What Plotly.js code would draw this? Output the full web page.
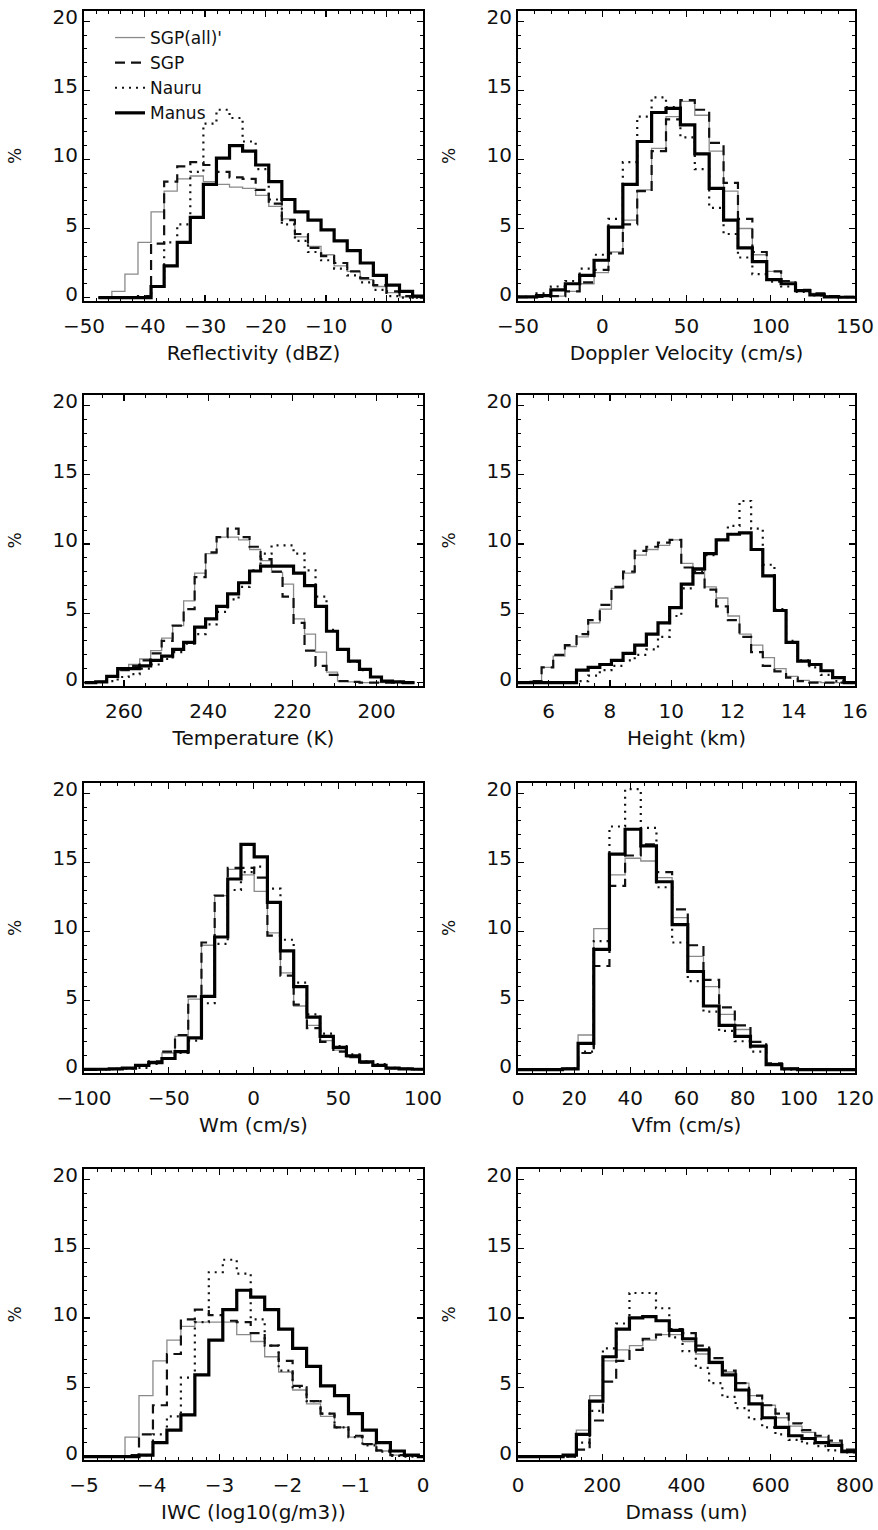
<!DOCTYPE html>
<html><head><meta charset="utf-8">
<script src="https://cdn.plot.ly/plotly-3.0.1.min.js"></script>
<style>html,body{margin:0;padding:0;background:#fff}#chart{width:878px;height:1530px}</style>
</head><body><div id="chart"></div>
<script>
const seriesNames = ["SGP(all)'", "SGP", "Nauru", "Manus"];

// Reflectivity (dBZ)
const reflEdges = [-47.6,-45.4,-43.24,-41.08,-38.92,-36.76,-34.6,-32.44,-30.28,-28.12,-25.96,-23.8,-21.64,-19.48,-17.32,-15.16,-13.0,-10.84,-8.68,-6.52,-4.36,-2.2,-0.04,2.12,4.28,6.44];
const reflSGPall = [0,0.45,1.7,4.0,6.2,7.7,8.6,8.8,8.4,8.2,8.0,7.9,7.4,6.6,5.7,4.4,3.7,3.1,2.3,1.9,1.3,0.8,0.35,0.05,0];
const reflSGP    = [0,0,0,0.1,3.9,8.4,9.5,9.8,9.6,9.1,8.7,8.6,7.8,6.8,5.6,4.6,3.6,3.0,2.5,1.9,1.4,0.9,0.45,0.1,0];
const reflNauru  = [0,0,0,0,0.8,4.0,5.3,9.1,12.6,13.6,13.0,11.3,9.3,7.1,5.3,4.1,3.3,2.7,2.1,1.6,1.1,0.55,0.1,0,0];
const reflManus  = [0,0,0,0,0.8,2.3,4.0,5.8,8.2,10.1,11.0,10.6,9.6,8.4,7.1,6.2,5.6,4.9,4.1,3.4,2.5,1.6,0.9,0.45,0.1];

// Doppler Velocity (cm/s)
const dopEdges = [-50,-39.0,-30.5,-21.9,-13.4,-4.86,3.68,12.22,20.76,29.3,37.84,46.38,54.92,63.46,72.0,80.54,89.08,97.62,106.16,114.7,123.24,131.78,140.32,150];
const dopSGPall = [0.02,0.05,0.1,0.45,1.0,1.8,3.3,5.6,7.8,10.8,13.1,14.2,13.2,10.6,7.7,5.0,3.1,1.9,1.15,0.55,0.3,0.1,0.05];
const dopSGP    = [0.02,0.05,0.1,0.45,1.1,2.0,3.2,5.3,7.7,10.6,12.9,14.3,13.6,11.2,8.3,5.7,3.3,1.9,1.2,0.55,0.3,0.1,0.05];
const dopNauru  = [0.05,0.3,0.8,1.2,2.1,3.1,5.7,9.8,13.1,14.5,13.8,11.6,9.3,6.5,4.6,2.9,1.7,1.15,0.8,0.4,0.15,0.05,0.02];
const dopManus  = [0.05,0.15,0.55,1.0,1.6,2.7,5.1,8.2,11.3,13.4,13.7,12.5,10.4,7.9,5.6,3.6,2.6,1.3,1.0,0.5,0.2,0.05,0.02];

// Temperature (K)
const tempEdges = [269.33,266.72,264.11,261.5,258.89,256.28,253.67,251.06,248.45,245.84,243.23,240.62,238.01,235.4,232.79,230.18,227.57,224.96,222.35,219.74,217.13,214.52,211.91,209.3,206.69,204.08,201.47,198.86,196.25,193.64,191.03];
const tempSGPall = [0,0.05,0.45,0.9,1.3,1.7,2.3,3.2,4.1,5.9,7.9,9.3,10.5,10.5,10.3,9.6,8.8,7.95,7.1,4.6,3.5,2.2,0.75,0.1,0.05,0,0,0,0,0];
const tempSGP    = [0,0.05,0.45,0.9,1.2,1.6,2.1,3.0,4.1,5.3,7.6,9.4,10.5,11.1,10.5,9.8,8.9,8.0,6.2,4.3,2.3,1.2,0.55,0.1,0.05,0,0,0,0,0];
const tempNauru  = [0,0.05,0.1,0.4,0.6,1.0,1.3,1.7,2.2,2.8,3.5,4.2,5.1,6.0,6.9,8.1,9.3,9.9,9.9,9.3,8.1,6.2,3.8,2.4,1.5,0.9,0.4,0.1,0.05,0];
const tempManus  = [0,0.05,0.45,1.0,1.0,1.2,1.6,1.9,2.4,2.9,4.0,4.6,5.5,6.4,7.2,8.05,8.4,8.4,8.4,7.9,7.0,5.5,3.7,2.4,1.55,0.95,0.4,0.1,0.05,0];

// Height (km)
const hgtEdges = [5.0,5.39,5.77,6.15,6.53,6.91,7.29,7.67,8.05,8.43,8.81,9.19,9.57,9.95,10.33,10.71,11.09,11.47,11.85,12.23,12.61,12.99,13.37,13.75,14.13,14.51,14.89,15.27,15.65,16.03];
const hgtSGPall = [0,0.1,1.1,1.9,2.6,3.3,4.3,5.3,6.8,7.9,9.2,9.6,9.9,10.3,8.6,8.1,6.9,6.1,4.8,3.5,2.7,1.8,1.0,0.45,0.15,0.05,0,0,0];
const hgtSGP    = [0,0.1,1.1,2.0,2.7,3.5,4.5,5.6,6.9,8.0,9.5,9.8,10.1,10.3,8.3,7.9,6.7,5.5,4.5,3.3,2.2,1.2,0.8,0.35,0.1,0,0,0,0];
const hgtNauru  = [0,0,0,0,0,0.1,0.5,0.9,1.2,1.6,2.0,2.4,3.3,4.8,6.8,8.0,9.2,10.3,11.3,13.1,11.1,8.5,5.3,3.0,1.6,1.1,0.55,0.1,0];
const hgtManus  = [0,0,0,0,0,0.9,1.1,1.3,1.6,2.1,2.7,3.5,4.3,5.4,7.1,8.2,9.3,10.3,10.7,10.8,9.6,7.7,5.2,2.9,1.55,1.3,0.85,0.35,0];

// Wm (cm/s)
const wmEdges = [-100,-92.9,-85.1,-77.4,-69.6,-61.8,-54.0,-46.3,-38.5,-30.7,-22.9,-15.2,-7.4,0.4,8.2,15.9,23.7,31.5,39.3,47.1,54.8,62.6,70.4,78.2,85.9,93.7,100];
const wmSGPall = [0.01,0.02,0.05,0.1,0.3,0.6,1.2,2.4,5.1,9.0,12.6,14.5,14.1,12.9,9.9,7.0,4.6,3.2,2.1,1.4,0.9,0.5,0.3,0.1,0.05,0.02];
const wmSGP    = [0.01,0.02,0.05,0.1,0.3,0.6,1.3,2.5,5.3,9.2,12.6,14.6,14.6,13.9,9.7,6.8,4.7,3.0,2.0,1.3,0.9,0.5,0.3,0.1,0.05,0.02];
const wmNauru  = [0.01,0.01,0.03,0.06,0.12,0.4,0.8,1.2,2.1,4.8,9.1,13.0,14.3,14.7,13.1,9.4,6.3,4.0,2.6,1.7,1.1,0.6,0.4,0.12,0.05,0.02];
const wmManus  = [0.01,0.02,0.05,0.1,0.3,0.5,0.8,1.3,2.3,5.3,9.6,13.8,16.3,15.4,12.1,8.6,6.0,3.8,2.4,1.6,1.0,0.55,0.3,0.1,0.05,0.02];

// Vfm (cm/s)
const vfmEdges = [0,15.82,21.4,26.98,32.56,38.14,43.72,49.3,54.88,60.46,66.04,71.62,77.2,82.78,88.36,93.94,99.52,105.1,120];
const vfmSGPall = [0,0.1,2.5,10.2,14.1,15.3,15.1,13.9,11.0,8.2,6.0,4.0,2.9,1.7,0.45,0.1,0,0];
const vfmSGP    = [0,0.05,1.2,7.5,13.3,15.5,16.3,14.3,11.6,9.0,6.5,4.5,3.2,2.0,0.45,0.05,0,0];
const vfmNauru  = [0,0.05,1.3,9.3,17.6,20.3,17.5,13.2,9.2,6.4,4.2,2.8,2.05,1.3,0.35,0,0,0];
const vfmManus  = [0,0.05,1.9,8.7,15.6,17.4,16.2,13.6,10.5,7.1,4.6,3.2,2.4,1.7,0.35,0.05,0,0];

// IWC (log10(g/m3))
const iwcEdges = [-5,-4.395,-4.189,-3.983,-3.777,-3.571,-3.365,-3.159,-2.953,-2.747,-2.541,-2.335,-2.129,-1.923,-1.717,-1.511,-1.305,-1.099,-0.893,-0.687,-0.481,-0.275,-0.069,0];
const iwcSGPall = [0,1.4,4.4,6.9,8.4,9.4,9.7,9.7,9.7,8.8,8.3,7.2,6.1,4.8,3.8,2.9,2.1,1.4,0.9,0.4,0.1,0.05,0];
const iwcSGP    = [0,0.1,1.6,3.7,7.4,9.9,10.6,10.2,9.8,9.7,8.9,8.0,6.9,5.1,4.0,3.1,2.1,1.5,0.9,0.45,0.1,0.05,0];
const iwcNauru  = [0,0,0.1,1.6,2.9,5.7,9.7,13.3,14.2,13.2,9.9,8.0,6.2,5.0,4.0,3.1,2.1,1.4,0.8,0.35,0.05,0,0];
const iwcManus  = [0,0,0.1,1.0,1.9,3.0,5.9,8.4,10.6,12.0,11.5,10.6,9.2,7.8,6.5,5.1,4.4,3.1,1.9,1.0,0.4,0.1,0];

// Dmass (um)
const dmEdges = [0,107.1,138.6,170.1,201.6,233.1,264.6,296.1,327.6,359.1,390.6,422.1,453.6,485.1,516.6,548.1,579.6,611.1,642.6,674.1,705.6,737.1,768.6,800];
const dmSGPall = [0,0.1,1.9,4.4,6.9,7.7,8.0,8.4,8.8,8.8,8.3,7.4,6.7,6.1,5.3,4.4,3.7,2.8,2.2,1.75,1.4,1.0,0.5];
const dmSGP    = [0,0,0.5,2.6,5.4,6.9,7.7,8.5,8.8,9.2,8.9,8.0,7.1,6.2,5.3,4.4,3.7,3.1,2.4,1.9,1.5,1.15,0.5];
const dmNauru  = [0,0,1.0,3.3,7.8,9.6,11.8,11.8,10.7,8.6,7.6,6.4,5.3,4.3,3.5,2.7,2.1,1.6,1.2,0.95,0.75,0.45,0.3];
const dmManus  = [0,0.1,1.6,4.0,7.2,9.2,10.0,10.1,9.8,9.1,8.5,7.7,6.8,5.9,4.8,3.8,2.8,2.1,1.5,1.3,1.0,0.8,0.35];

const panels = [
  {edges: reflEdges, vals: [reflSGPall, reflSGP, reflNauru, reflManus], title: 'Reflectivity (dBZ)', range: [-50, 6], dtick: 10, minor: 2},
  {edges: dopEdges, vals: [dopSGPall, dopSGP, dopNauru, dopManus], title: 'Doppler Velocity (cm/s)', range: [-50, 150], dtick: 50, minor: 10},
  {edges: tempEdges, vals: [tempSGPall, tempSGP, tempNauru, tempManus], title: 'Temperature (K)', range: [269.5, 189], dtick: 20, minor: 5},
  {edges: hgtEdges, vals: [hgtSGPall, hgtSGP, hgtNauru, hgtManus], title: 'Height (km)', range: [5, 16], dtick: 2, minor: 0.5},
  {edges: wmEdges, vals: [wmSGPall, wmSGP, wmNauru, wmManus], title: 'Wm (cm/s)', range: [-100, 100], dtick: 50, minor: 10},
  {edges: vfmEdges, vals: [vfmSGPall, vfmSGP, vfmNauru, vfmManus], title: 'Vfm (cm/s)', range: [0, 120], dtick: 20, minor: 5},
  {edges: iwcEdges, vals: [iwcSGPall, iwcSGP, iwcNauru, iwcManus], title: 'IWC (log10(g/m3))', range: [-5, 0], dtick: 1, minor: 0.2},
  {edges: dmEdges, vals: [dmSGPall, dmSGP, dmNauru, dmManus], title: 'Dmass (um)', range: [0, 800], dtick: 200, minor: 50}
];

const lineStyles = [
  {color: '#8a8a8a', width: 1.3, dash: 'solid'},
  {color: '#111111', width: 2.2, dash: '10px,6px'},
  {color: '#111111', width: 2.2, dash: '2px,5px'},
  {color: '#000000', width: 3.2, dash: 'solid'}
];

const W = 878, H = 1530;
const colPx = [[84, 423], [518, 855]];
const rowPx = [[11, 301], [395, 686], [783, 1073], [1169, 1460]];
const FONT = 'DejaVu Sans, Liberation Sans, sans-serif';

const traces = [];
const layout = {
  width: W, height: H,
  margin: {l: 0, r: 0, t: 0, b: 0},
  paper_bgcolor: '#fff', plot_bgcolor: '#fff',
  font: {family: FONT, color: '#111', size: 19},
  showlegend: true,
  legend: {x: 110 / W, y: 1 - 20 / H, xanchor: 'left', yanchor: 'top',
           bgcolor: 'rgba(0,0,0,0)', borderwidth: 0,
           font: {family: FONT, size: 17, color: '#111'},
           tracegroupgap: 0, itemwidth: 30},
};

panels.forEach((p, i) => {
  const n = i + 1;
  const col = i % 2, row = Math.floor(i / 2);
  const xa = 'x' + (n === 1 ? '' : n), ya = 'y' + (n === 1 ? '' : n);
  p.vals.forEach((v, s) => {
    traces.push({
      type: 'scatter', mode: 'lines',
      x: p.edges, y: v.concat([v[v.length - 1]]),
      line: Object.assign({shape: 'hv'}, lineStyles[s]),
      name: seriesNames[s], showlegend: i === 0,
      xaxis: xa, yaxis: ya, hoverinfo: 'skip', cliponaxis: true
    });
  });
  const common = {
    showline: true, linewidth: 2, linecolor: '#000', mirror: 'allticks',
    ticks: 'inside', ticklen: 6, tickwidth: 1.3, tickcolor: '#000',
    showgrid: false, zeroline: false, fixedrange: true,
    tickfont: {family: FONT, size: 20, color: '#111'}
  };
  layout['xaxis' + (n === 1 ? '' : n)] = Object.assign({}, common, {
    domain: [colPx[col][0] / W, colPx[col][1] / W],
    anchor: ya, range: p.range, autorange: false,
    tickmode: 'linear', tick0: 0, dtick: p.dtick,
    ticklabelstandoff: 6,
    minor: {ticks: 'inside', ticklen: 3, dtick: p.minor, tick0: 0, tickcolor: '#000', tickwidth: 1},
    title: {text: p.title, font: {family: FONT, size: 20, color: '#111'}, standoff: 9}
  });
  layout['yaxis' + (n === 1 ? '' : n)] = Object.assign({}, common, {
    domain: [1 - rowPx[row][1] / H, 1 - rowPx[row][0] / H],
    anchor: xa, range: [-0.25, 20.75], autorange: false,
    tickmode: 'linear', tick0: 0, dtick: 5,
    ticklabelshift: -4,
    minor: {ticks: 'inside', ticklen: 3, dtick: 1, tick0: 0, tickcolor: '#000', tickwidth: 1},
    title: {text: '%', font: {family: FONT, size: 17, color: '#111'}, standoff: 27}
  });
});

Plotly.newPlot('chart', traces, layout, {staticPlot: true, displayModeBar: false});
</script>
</body></html>
